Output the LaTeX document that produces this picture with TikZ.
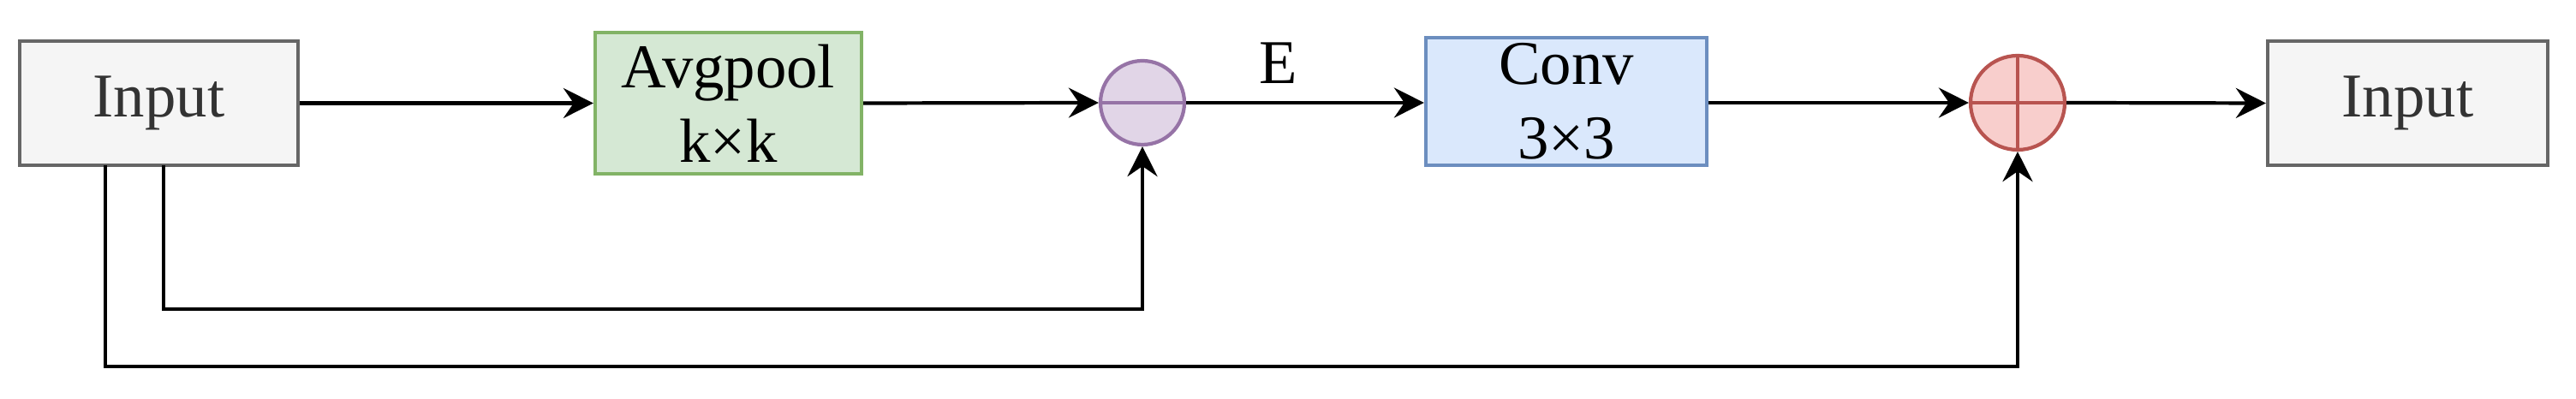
\documentclass[tikz,border=0pt]{standalone}
\usepackage{fontspec}
\setmainfont{Liberation Serif}
\usetikzlibrary{arrows.meta,calc}
\definecolor{inpfill}{HTML}{F5F5F5}
\definecolor{inpdraw}{HTML}{666666}
\definecolor{inptext}{HTML}{333333}
\definecolor{grnfill}{HTML}{D5E8D4}
\definecolor{grndraw}{HTML}{82B366}
\definecolor{blufill}{HTML}{DAE8FC}
\definecolor{bludraw}{HTML}{6C8EBF}
\definecolor{purfill}{HTML}{E1D5E7}
\definecolor{purdraw}{HTML}{9673A6}
\definecolor{redfill}{HTML}{F8CECC}
\definecolor{reddraw}{HTML}{B85450}
\tikzset{
  txt/.style={font=\fontsize{20.7pt}{24.8pt}\selectfont},
  box/.style={txt, rectangle, line width=1.2pt, inner sep=0pt, align=center},
  opc/.style={circle, line width=1.2pt, inner sep=0pt},
  arr/.style={line width=1.2pt, -{Stealth[length=0.35cm, width=0.35cm, inset=0.12cm]}},
  ln/.style={line width=1.2pt}
}
\begin{document}
\begin{tikzpicture}
\useasboundingbox (0,0) rectangle (30.08,-4.66);
\node[box, fill=inpfill, draw=inpdraw, text=inptext, minimum width=3.25cm, minimum height=1.45cm] (in) at (1.855,-1.205) {Input};
\node[box, fill=grnfill, draw=grndraw, minimum width=3.11cm, minimum height=1.65cm] (avg) at (8.505,-1.205) {Avgpool\\k×k};
\node[opc, fill=purfill, draw=purdraw, minimum size=0.98cm] (c1) at (13.34,-1.20) {};
\node[box, fill=blufill, draw=bludraw, minimum width=3.28cm, minimum height=1.49cm] (conv) at (18.29,-1.185) {Conv\\3×3};
\node[opc, fill=redfill, draw=reddraw, minimum size=1.10cm] (c2) at (23.56,-1.20) {};
\node[box, fill=inpfill, draw=inpdraw, text=inptext, minimum width=3.27cm, minimum height=1.45cm] (out) at (28.115,-1.205) {Input};
\draw[ln, draw=purdraw] (c1.west) -- (c1.east);
\draw[ln, draw=reddraw] (c2.west) -- (c2.east);
\draw[ln, draw=reddraw] (c2.north) -- (c2.south);
\node[txt, anchor=base] (elabel) at (14.93,-0.98) {E};
\draw[arr] (in.east) -- (avg.west);
\draw[arr] (avg.east) -- (c1.west);
\draw[arr] (c1.east) -- (conv.west |- c1.east);
\draw[arr] (conv.east |- c2.west) -- (c2.west);
\draw[arr] (c2.east) -- (out.west);
\coordinate (s1) at (1.91,-1.93);
\coordinate (s2) at (1.23,-1.93);
\draw[arr] (s1) -- (1.91,-3.61) -| (c1.south);
\draw[arr] (s2) -- (1.23,-4.28) -| (c2.south);
\end{tikzpicture}
\end{document}
